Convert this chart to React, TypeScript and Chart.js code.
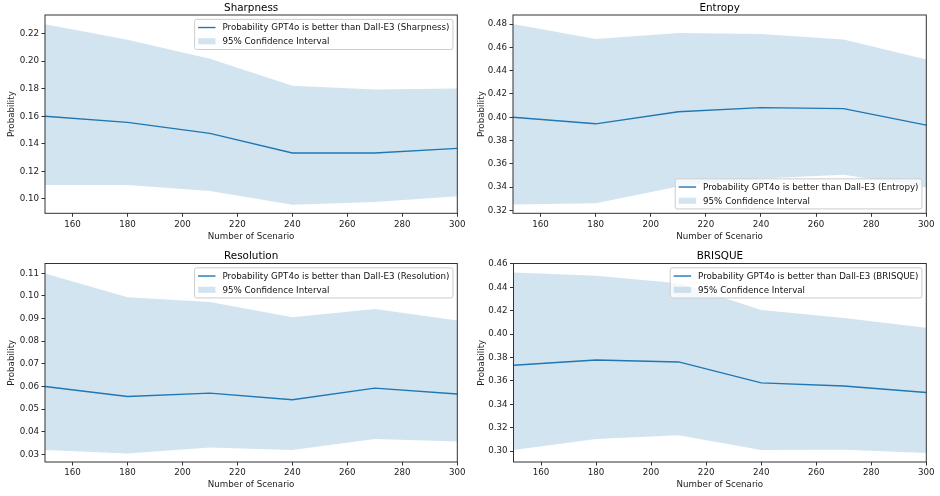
import { useEffect, useRef } from "react";
import { Chart, registerables } from "chart.js";

Chart.register(...registerables);

// ---------- data ----------
const scenarios = [150, 180, 210, 240, 270, 300];
const xTicks = [160, 180, 200, 220, 240, 260, 280, 300];

const sharpnessMean = [0.16, 0.1556, 0.1476, 0.1333, 0.1333, 0.1367];
const sharpnessUpper = [0.2268, 0.2157, 0.2018, 0.1822, 0.1794, 0.1801];
const sharpnessLower = [0.1101, 0.11, 0.1057, 0.0958, 0.0978, 0.1019];
const sharpnessTicks = [0.1, 0.12, 0.14, 0.16, 0.18, 0.2, 0.22];

const entropyMean = [0.4, 0.3944, 0.4048, 0.4083, 0.4074, 0.3933];
const entropyUpper = [0.48, 0.4671, 0.4723, 0.4714, 0.4668, 0.4497];
const entropyLower = [0.3252, 0.3263, 0.3407, 0.3475, 0.3507, 0.3398];
const entropyTicks = [0.32, 0.34, 0.36, 0.38, 0.4, 0.42, 0.44, 0.46, 0.48];

const resolutionMean = [0.06, 0.0556, 0.0571, 0.0542, 0.0593, 0.0567];
const resolutionUpper = [0.1099, 0.0994, 0.0973, 0.0906, 0.0942, 0.0892];
const resolutionLower = [0.032, 0.0305, 0.0331, 0.032, 0.0368, 0.0357];
const resolutionTicks = [0.03, 0.04, 0.05, 0.06, 0.07, 0.08, 0.09, 0.1, 0.11];

const brisqueMean = [0.3733, 0.3778, 0.3762, 0.3583, 0.3556, 0.35];
const brisqueUpper = [0.4526, 0.45, 0.4434, 0.4206, 0.4137, 0.4055];
const brisqueLower = [0.3009, 0.3103, 0.3134, 0.3009, 0.3011, 0.2983];
const brisqueTicks = [0.3, 0.32, 0.34, 0.36, 0.38, 0.4, 0.42, 0.44, 0.46];

const ciLabel = "95% Confidence Interval";
const xTitle = "Number of Scenario";
const yTitle = "Probability";

type Panel = {
  title: string;
  mean: number[];
  upper: number[];
  lower: number[];
  yTicks: number[];
  yMin: number;
  yMax: number;
  legendLoc: "upper" | "lower";
  px: number;
  py: number;
  left: number;
  right: number;
  top: number;
  bottom: number;
};

const W = 470;
const H = 248;
const FONT = '"DejaVu Sans", "Liberation Sans", sans-serif';
const FS = 8.7;
const BLUE = "#1f77b4";
const FILL = "rgba(31,119,180,0.2)";

const panels: Panel[] = [
  {
    title: "Sharpness",
    mean: sharpnessMean,
    upper: sharpnessUpper,
    lower: sharpnessLower,
    yTicks: sharpnessTicks,
    yMin: 0.0895,
    yMax: 0.2336,
    legendLoc: "upper",
    px: 0,
    py: 0,
    left: 45,
    right: 457.3,
    top: 15,
    bottom: 213.3,
  },
  {
    title: "Entropy",
    mean: entropyMean,
    upper: entropyUpper,
    lower: entropyLower,
    yTicks: entropyTicks,
    yMin: 0.3176,
    yMax: 0.4878,
    legendLoc: "lower",
    px: 470,
    py: 0,
    left: 43,
    right: 456.3,
    top: 15,
    bottom: 213.3,
  },
  {
    title: "Resolution",
    mean: resolutionMean,
    upper: resolutionUpper,
    lower: resolutionLower,
    yTicks: resolutionTicks,
    yMin: 0.0267,
    yMax: 0.1143,
    legendLoc: "upper",
    px: 0,
    py: 248,
    left: 45,
    right: 457.3,
    top: 15.5,
    bottom: 214,
  },
  {
    title: "BRISQUE",
    mean: brisqueMean,
    upper: brisqueUpper,
    lower: brisqueLower,
    yTicks: brisqueTicks,
    yMin: 0.2906,
    yMax: 0.4604,
    legendLoc: "upper",
    px: 470,
    py: 248,
    left: 43.5,
    right: 456.3,
    top: 15.5,
    bottom: 214,
  },
];

const mplPlugin = {
  id: "mplDecor",
  afterDraw(chart: any, _args: any, opts: any) {
    const { ctx, chartArea: a } = chart;
    ctx.save();
    // title
    ctx.fillStyle = "#000";
    ctx.font = `10.4px ${FONT}`;
    ctx.textAlign = "center";
    ctx.textBaseline = "alphabetic";
    ctx.fillText(opts.title, (a.left + a.right) / 2, 10.6);

    // frame
    ctx.strokeStyle = "#333";
    ctx.lineWidth = 1;
    ctx.strokeRect(a.left, a.top, a.right - a.left, a.bottom - a.top);

    // legend
    ctx.font = `${FS}px ${FONT}`;
    const labels: string[] = [opts.lineLabel, ciLabel];
    const textW = Math.max(...labels.map((l) => ctx.measureText(l).width));
    const bp = 0.4 * FS;
    const hl = 2 * FS;
    const hp = 0.8 * FS;
    const rowH = 9.4;
    const sp = 0.5 * FS;
    const ap = 0.5 * FS;
    const w = 2 * bp + hl + hp + textW;
    const h = 2 * bp + 2 * rowH + sp;
    const x = a.right - ap - w;
    const y = opts.legendLoc === "upper" ? a.top + ap : a.bottom - ap - h;
    const r = 2;
    ctx.beginPath();
    ctx.moveTo(x + r, y);
    ctx.lineTo(x + w - r, y);
    ctx.quadraticCurveTo(x + w, y, x + w, y + r);
    ctx.lineTo(x + w, y + h - r);
    ctx.quadraticCurveTo(x + w, y + h, x + w - r, y + h);
    ctx.lineTo(x + r, y + h);
    ctx.quadraticCurveTo(x, y + h, x, y + h - r);
    ctx.lineTo(x, y + r);
    ctx.quadraticCurveTo(x, y, x + r, y);
    ctx.closePath();
    ctx.fillStyle = "rgba(255,255,255,0.8)";
    ctx.fill();
    ctx.strokeStyle = "#cccccc";
    ctx.lineWidth = 1;
    ctx.stroke();

    const c1 = y + bp + rowH / 2;
    const c2 = y + bp + rowH + sp + rowH / 2;
    ctx.strokeStyle = BLUE;
    ctx.lineWidth = 1.4;
    ctx.beginPath();
    ctx.moveTo(x + bp, c1);
    ctx.lineTo(x + bp + hl, c1);
    ctx.stroke();
    ctx.fillStyle = FILL;
    ctx.fillRect(x + bp, c2 - 0.35 * FS, hl, 0.7 * FS);

    ctx.fillStyle = "#111";
    ctx.textAlign = "left";
    ctx.textBaseline = "middle";
    ctx.fillText(labels[0], x + bp + hl + hp, c1 + 0.5);
    ctx.fillText(labels[1], x + bp + hl + hp, c2 + 0.5);
    ctx.restore();
  },
};

function PanelChart({ p }: { p: Panel }) {
  const ref = useRef<HTMLCanvasElement | null>(null);
  useEffect(() => {
    if (!ref.current) return;
    const pts = (arr: number[]) => scenarios.map((x, i) => ({ x, y: arr[i] }));
    const lineLabel = `Probability GPT4o is better than Dall-E3 (${p.title})`;
    const chart = new Chart(ref.current, {
      type: "line",
      data: {
        datasets: [
          {
            label: lineLabel,
            data: pts(p.mean),
            borderColor: BLUE,
            borderWidth: 1.4,
            pointRadius: 0,
            fill: false,
            tension: 0,
          },
          {
            label: ciLabel,
            data: pts(p.upper),
            borderWidth: 0,
            borderColor: "rgba(0,0,0,0)",
            backgroundColor: FILL,
            pointRadius: 0,
            fill: "+1",
            tension: 0,
          },
          {
            label: "lower",
            data: pts(p.lower),
            borderWidth: 0,
            borderColor: "rgba(0,0,0,0)",
            pointRadius: 0,
            fill: false,
            tension: 0,
          },
        ],
      },
      options: {
        animation: false,
        responsive: false,
        devicePixelRatio: 1,
        layout: { padding: { left: 0, right: W - p.right, top: p.top, bottom: 0 } },
        plugins: {
          legend: { display: false },
          title: { display: false },
          tooltip: { enabled: false },
          mplDecor: { title: p.title, lineLabel, legendLoc: p.legendLoc },
        } as any,
        scales: {
          x: {
            type: "linear",
            min: 150,
            max: 300,
            border: { display: false },
            grid: {
              display: true,
              drawOnChartArea: false,
              drawTicks: true,
              tickLength: 3.5,
              color: "#333",
              lineWidth: 1,
            },
            ticks: {
              autoSkip: false,
              padding: 2.5,
              color: "#222",
              font: { family: FONT, size: FS },
              maxRotation: 0,
              callback: (v: any) => String(v),
            },
            title: {
              display: true,
              text: xTitle,
              color: "#222",
              font: { family: FONT, size: FS },
              padding: { top: 0, bottom: 6.1 },
            },
            afterBuildTicks: (s: any) => {
              s.ticks = xTicks.map((v) => ({ value: v }));
            },
            afterFit: (s: any) => {
              s.height = H - p.bottom;
            },
          },
          y: {
            type: "linear",
            min: p.yMin,
            max: p.yMax,
            border: { display: false },
            grid: {
              display: true,
              drawOnChartArea: false,
              drawTicks: true,
              tickLength: 3.5,
              color: "#333",
              lineWidth: 1,
            },
            ticks: {
              autoSkip: false,
              padding: 2.5,
              color: "#222",
              font: { family: FONT, size: FS },
              callback: (v: any) => Number(v).toFixed(2),
            },
            title: {
              display: true,
              text: yTitle,
              color: "#222",
              font: { family: FONT, size: FS },
              padding: { top: 6.8, bottom: 0 },
            },
            afterBuildTicks: (s: any) => {
              s.ticks = p.yTicks.map((v) => ({ value: v }));
            },
            afterFit: (s: any) => {
              s.width = p.left;
            },
          },
        },
      },
      plugins: [mplPlugin as any],
    });
    return () => chart.destroy();
  }, [p]);
  return (
    <canvas
      ref={ref}
      width={W}
      height={H}
      style={{ position: "absolute", left: p.px, top: p.py, width: W, height: H }}
    />
  );
}

export default function App() {
  return (
    <div
      style={{
        position: "absolute",
        left: 0,
        top: 0,
        width: 940,
        height: 496,
        background: "#fff",
        overflow: "hidden",
      }}
    >
      {panels.map((p) => (
        <PanelChart key={p.title} p={p} />
      ))}
    </div>
  );
}
